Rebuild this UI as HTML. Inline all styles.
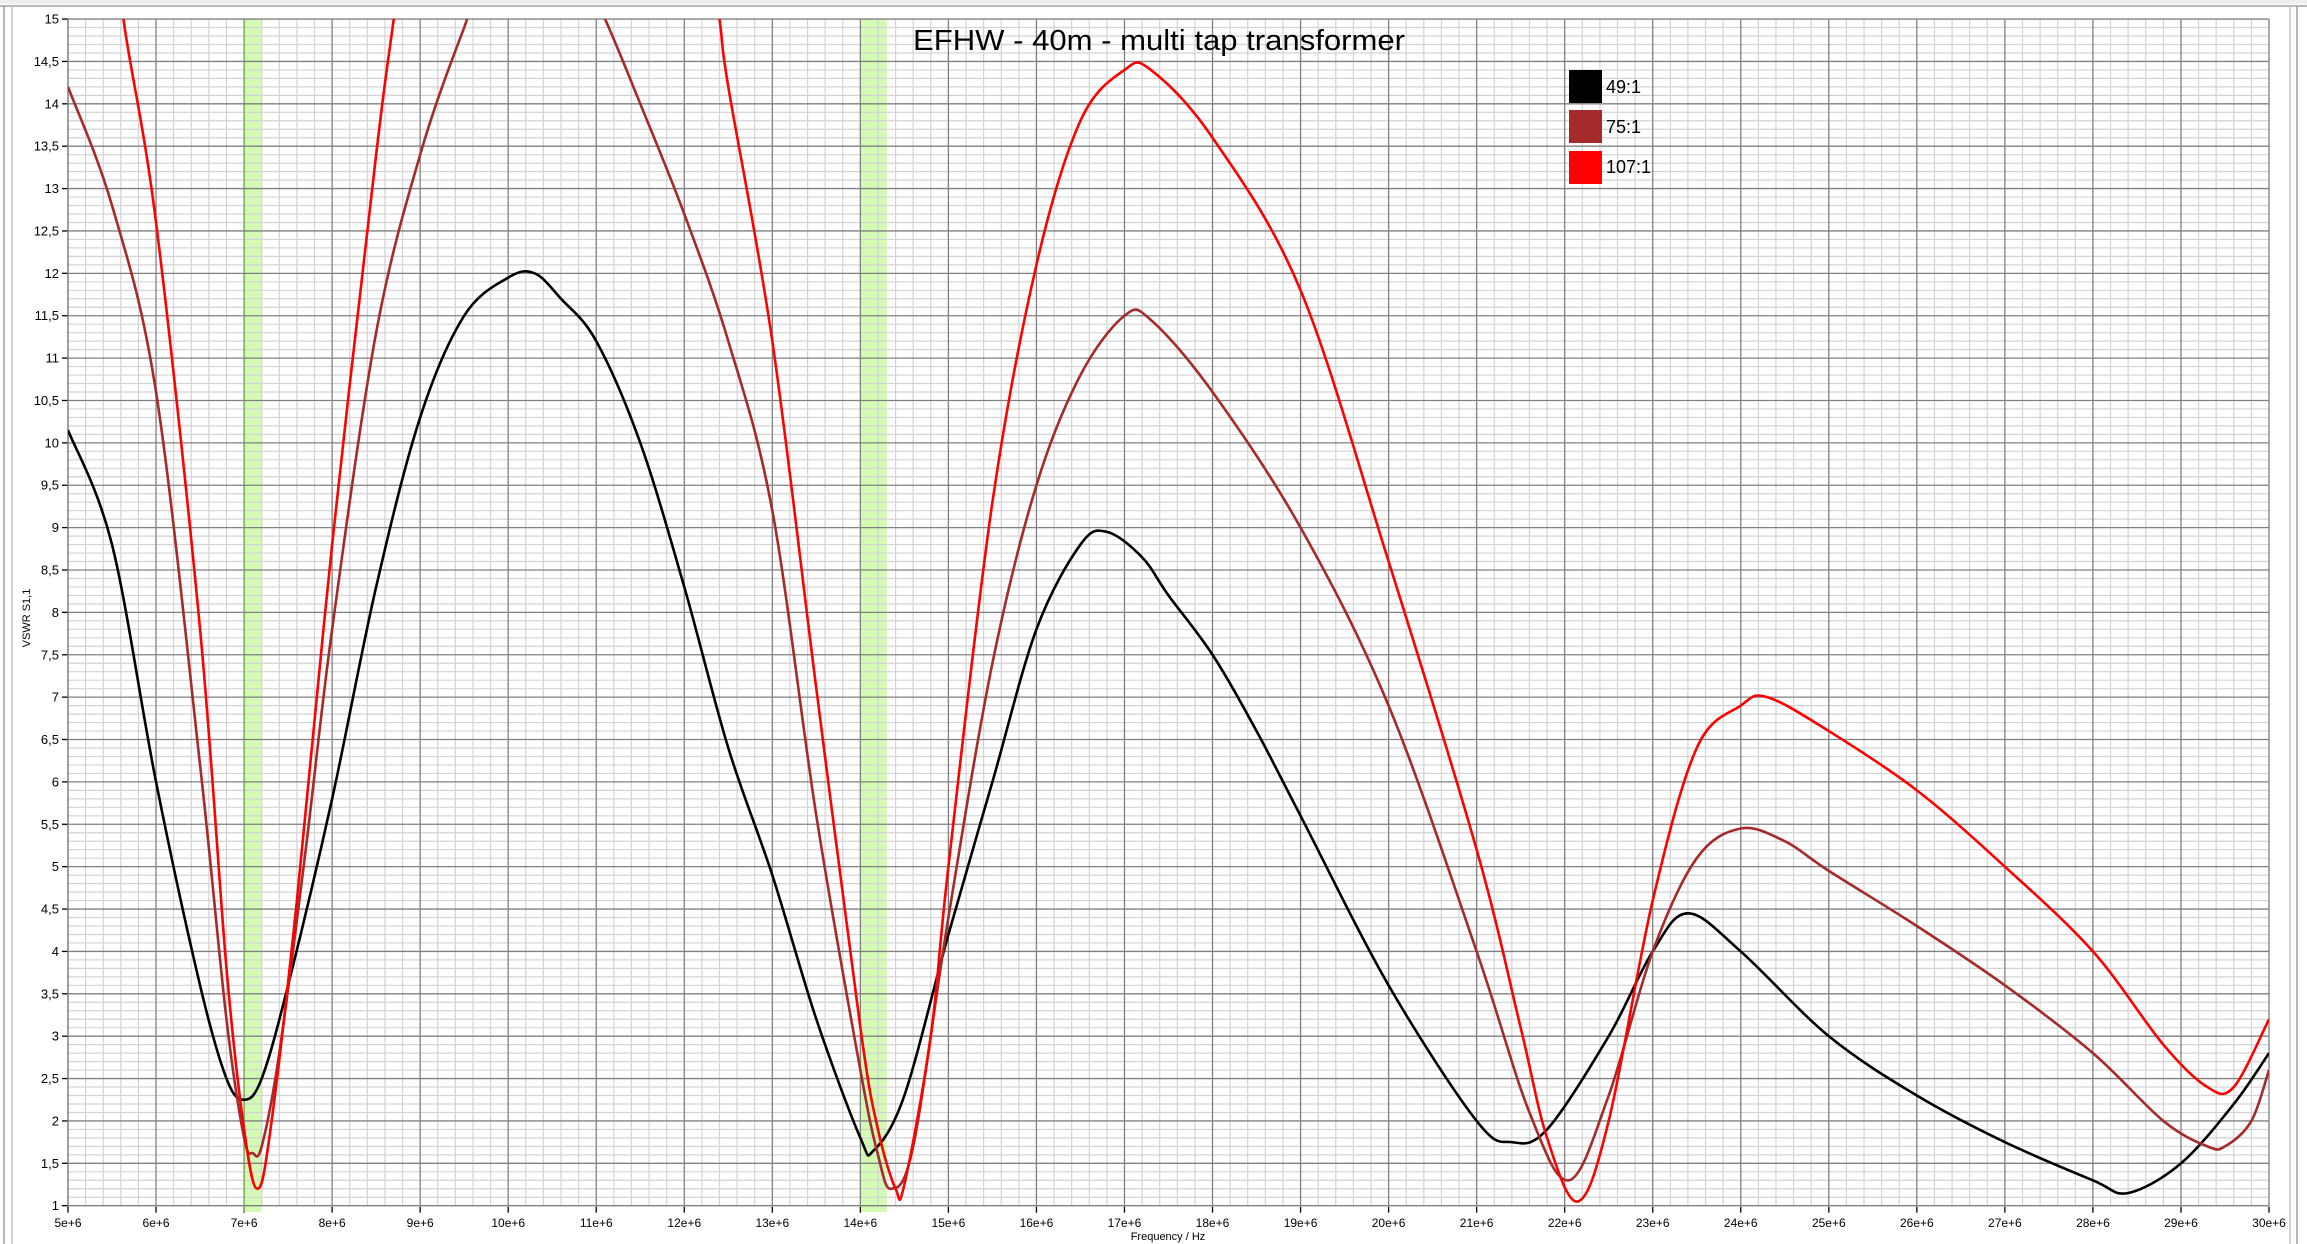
<!DOCTYPE html>
<html><head><meta charset="utf-8"><style>
html,body{margin:0;padding:0;background:#fff;}
svg{display:block;font-family:"Liberation Sans",sans-serif;}
</style></head><body>
<svg id="s" width="2307" height="1244" xmlns="http://www.w3.org/2000/svg">
<rect x="0" y="0" width="2307" height="1244" fill="#fff"/>
<rect x="0" y="0" width="2307" height="4" fill="#eeeeee"/>
<line x1="0" y1="6" x2="2307" y2="6" stroke="#a0a0a0" stroke-width="1.5"/>
<line x1="4" y1="6" x2="4" y2="1244" stroke="#a0a0a0" stroke-width="1.5"/>
<line x1="12" y1="6" x2="12" y2="1244" stroke="#c0c0c0" stroke-width="1.5"/>
<line x1="2290" y1="6" x2="2290" y2="1244" stroke="#c0c0c0" stroke-width="1.5"/>
<line x1="2297" y1="6" x2="2297" y2="1244" stroke="#a0a0a0" stroke-width="1.5"/>
<g id="grid"></g>
<g id="curves"></g>
<text x="913" y="50" font-size="29" textLength="492" lengthAdjust="spacingAndGlyphs">EFHW - 40m - multi tap transformer</text>
<rect x="1569" y="70" width="33" height="33" fill="#000"/>
<rect x="1569" y="110" width="33" height="33" fill="#a52a2a"/>
<rect x="1569" y="151" width="33" height="33" fill="#ff0000"/>
<text x="1606" y="93" font-size="18">49:1</text>
<text x="1606" y="133" font-size="18">75:1</text>
<text x="1606" y="173" font-size="18">107:1</text>
<text x="1168" y="1240" font-size="11" text-anchor="middle">Frequency / Hz</text>
<text transform="translate(30,618) rotate(-90)" font-size="11" text-anchor="middle">VSWR S1,1</text>
</svg>
<script>
var NS="http://www.w3.org/2000/svg";
function X(f){return 68+(f-5)*88.04;}
function Y(v){return 1205.7-(v-1)*84.76;}
function el(p,t,a,txt){var e=document.createElementNS(NS,t);for(var k in a)e.setAttribute(k,a[k]);if(txt!=null)e.textContent=txt;p.appendChild(e);return e;}
var g=document.getElementById('grid');
el(g,'rect',{x:X(7),y:19,width:X(7.2)-X(7),height:1212-19,fill:'#d4fbb4'});
el(g,'rect',{x:X(14),y:19,width:X(14.3)-X(14),height:1212-19,fill:'#d4fbb4'});
for(var i=0;i<=125;i++){var f=5+i*0.2;if(i%5==0)continue;el(g,'line',{x1:X(f),y1:19,x2:X(f),y2:Y(1),stroke:'#d3d3d3','stroke-width':1.2});}
for(var i=0;i<=140;i++){var v=1+i*0.1;if(i%5==0)continue;el(g,'line',{x1:68,y1:Y(v),x2:X(30),y2:Y(v),stroke:'#d3d3d3','stroke-width':1.2});}
for(var i=0;i<=25;i++){var x=X(5+i);el(g,'line',{x1:x,y1:19,x2:x,y2:Y(1),stroke:'#808080','stroke-width':1.3});
 el(g,'line',{x1:x,y1:Y(1)+1,x2:x,y2:Y(1)+7,stroke:'#000','stroke-width':1.3});
 el(g,'text',{x:x,y:1227,'font-size':12,'text-anchor':'middle'},(5+i)+'e+6');}
el(g,'line',{x1:X(7),y1:19,x2:X(7),y2:1212,stroke:'#78b050','stroke-width':1.3});
for(var i=0;i<=28;i++){var v=1+i*0.5,y=Y(v);el(g,'line',{x1:68,y1:y,x2:X(30),y2:y,stroke:'#808080','stroke-width':1.3});
 el(g,'line',{x1:62,y1:y,x2:68,y2:y,stroke:'#000','stroke-width':1.3});
 el(g,'text',{x:59,y:y+4.5,'font-size':13,'text-anchor':'end'},String(v).replace('.',','));}
el(g,'line',{x1:68,y1:19,x2:68,y2:Y(1),stroke:'#808080','stroke-width':1.3});
var black=[[5,10.15],[5.5,8.8],[6,6.0],[6.5,3.6],[6.8,2.5],[7,2.25],[7.2,2.5],[7.5,3.6],[8,5.8],[8.5,8.3],[9,10.3],[9.5,11.5],[10,11.95],[10.3,12.0],[10.6,11.7],[11,11.2],[11.5,10.0],[12,8.3],[12.5,6.4],[13,4.9],[13.5,3.2],[14,1.8],[14.15,1.65],[14.5,2.3],[15,4.2],[15.5,6.0],[16,7.8],[16.5,8.8],[16.8,8.95],[17.2,8.65],[17.5,8.2],[18,7.5],[18.5,6.6],[19,5.6],[20,3.6],[21,2.0],[21.4,1.75],[21.8,1.9],[22.5,3.0],[23,4.0],[23.4,4.45],[24,4.0],[25,3.0],[26,2.3],[27,1.75],[28,1.3],[28.4,1.15],[29,1.5],[29.6,2.2],[30,2.8]];
var brown=[[5,14.2],[5.5,12.8],[6,10.6],[6.5,6.2],[6.8,3.2],[7.0,1.8],[7.1,1.62],[7.2,1.7],[7.4,2.8],[7.7,5.2],[8,7.8],[8.5,11.3],[9,13.4],[9.5,14.9],[9.8,15.6],[10.8,15.6],[11.1,15],[11.5,14.0],[12,12.7],[12.5,11.2],[13,9.2],[13.5,5.6],[14,2.6],[14.2,1.6],[14.35,1.2],[14.6,1.7],[15,4.4],[15.5,7.4],[16,9.5],[16.5,10.8],[17,11.5],[17.3,11.45],[18,10.6],[19,9.0],[20,6.9],[21,4.0],[21.6,2.1],[22.05,1.3],[22.5,2.3],[23,4.0],[23.5,5.1],[24,5.45],[24.5,5.3],[25,4.95],[26,4.3],[27,3.6],[28,2.8],[28.8,2.0],[29.3,1.7],[29.5,1.7],[29.8,2.0],[30,2.6]];
var red=[[5.5,16.5],[5.63,15],[6,12.6],[6.5,7.8],[6.8,3.8],[7.0,1.9],[7.15,1.2],[7.3,1.9],[7.6,4.6],[8,8.8],[8.5,13.4],[8.7,15],[8.9,16.5],[12.2,16.5],[12.4,15],[12.5,14.2],[13,11.2],[13.5,7.1],[14,3.1],[14.2,1.9],[14.4,1.2],[14.5,1.25],[14.8,3.0],[15,5.0],[15.5,9.3],[16,12.1],[16.5,13.8],[17,14.4],[17.3,14.4],[18,13.6],[19,11.8],[20,8.6],[21,5.2],[21.5,3.1],[21.8,1.8],[22.15,1.05],[22.5,2.0],[23,4.6],[23.5,6.4],[24,6.9],[24.3,7.0],[25,6.6],[26,5.9],[27,5.0],[28,4.0],[28.8,2.9],[29.3,2.4],[29.6,2.4],[30,3.2]];
function path(d){var p=d.map(function(a){return [X(a[0]),Y(a[1])];});var s='M'+p[0][0]+','+p[0][1];
 for(var i=0;i<p.length-1;i++){var p0=p[i-1]||p[i],p1=p[i],p2=p[i+1],p3=p[i+2]||p2;
  s+=' C'+(p1[0]+(p2[0]-p0[0])/6)+','+(p1[1]+(p2[1]-p0[1])/6)+' '+(p2[0]-(p3[0]-p1[0])/6)+','+(p2[1]-(p3[1]-p1[1])/6)+' '+p2[0]+','+p2[1];}
 return s;}
var c=document.getElementById('curves');
var defs=el(c,'defs',{});var cp=el(defs,'clipPath',{id:'cp'});el(cp,'rect',{x:68,y:19,width:X(30)-68,height:Y(1)-19});
var gg=el(c,'g',{'clip-path':'url(#cp)',fill:'none','stroke-width':2.6,'stroke-linejoin':'round'});
el(gg,'path',{d:path(black),stroke:'#000'});
el(gg,'path',{d:path(brown),stroke:'#a52a2a'});
el(gg,'path',{d:path(red),stroke:'#ff0000'});
</script>
</body></html>
